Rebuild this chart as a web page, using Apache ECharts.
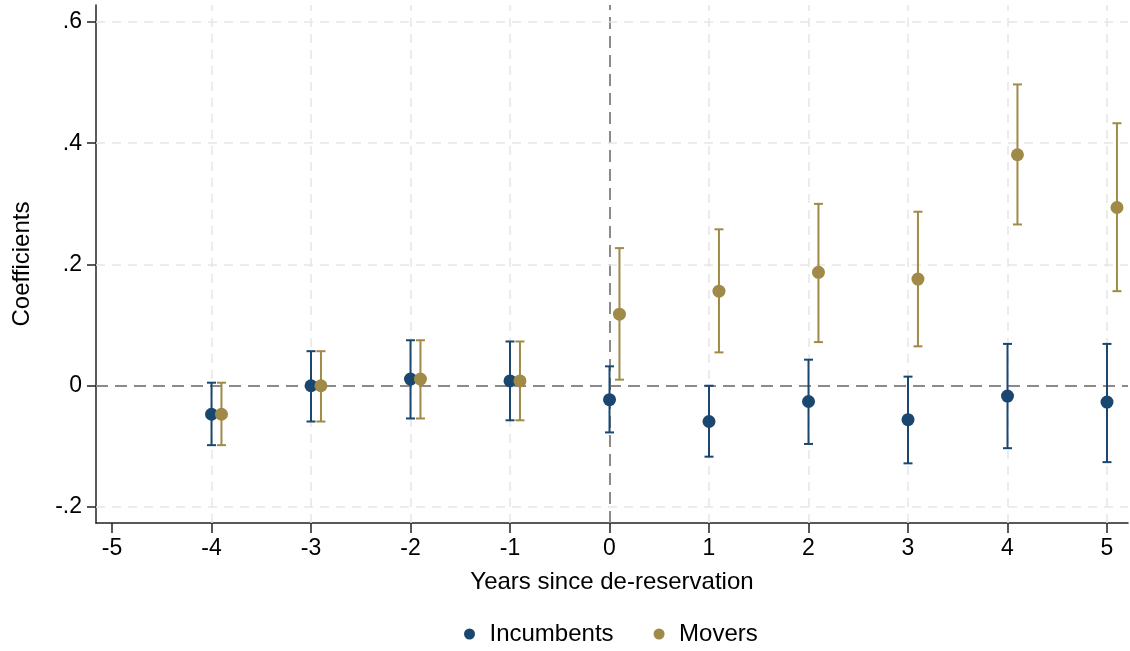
<!DOCTYPE html>
<html>
<head>
<meta charset="utf-8">
<script src="https://cdn.jsdelivr.net/npm/echarts@6/dist/echarts.min.js"></script>
<style>
html,body{margin:0;padding:0;background:#fff;}
#chart{width:1130px;height:651px;}
</style>
</head>
<body>
<div id="chart"></div>
<script>
// ---- data ----
const years = [-4, -3, -2, -1, 0, 1, 2, 3, 4, 5];
const incCoef = [-0.047, 0.000, 0.011, 0.008, -0.023, -0.059, -0.026, -0.056, -0.017, -0.027];
const incLow  = [-0.098, -0.059, -0.054, -0.057, -0.077, -0.117, -0.096, -0.128, -0.103, -0.126];
const incHigh = [0.005, 0.057, 0.075, 0.073, 0.032, 0.000, 0.043, 0.015, 0.069, 0.069];
const movCoef = [-0.047, 0.000, 0.011, 0.008, 0.118, 0.156, 0.187, 0.176, 0.381, 0.294];
const movLow  = [-0.098, -0.059, -0.054, -0.057, 0.010, 0.055, 0.072, 0.065, 0.266, 0.156];
const movHigh = [0.005, 0.057, 0.075, 0.073, 0.227, 0.258, 0.300, 0.287, 0.497, 0.433];
const moverOffset = 0.1;
const xTicks = [-5, -4, -3, -2, -1, 0, 1, 2, 3, 4, 5];
const yTicks = [-0.2, 0, 0.2, 0.4, 0.6];
const seriesNames = ['Incumbents', 'Movers'];
const xTitle = 'Years since de-reservation';
const yTitle = 'Coefficients';

// ---- styles ----
const navy = '#1a476f';
const gold = '#a08a47';
const FONT = 'Liberation Sans, Arial, Helvetica, sans-serif';

function fmtY(v) {
  if (Math.abs(v) < 1e-9) return '0';
  const s = Math.abs(v).toFixed(1).replace(/^0/, '');
  return (v < 0 ? '-' : '') + s;
}

const incPts = years.map((x, i) => [x, incCoef[i]]);
const movPts = years.map((x, i) => [x + moverOffset, movCoef[i]]);
const incBars = years.map((x, i) => [x, incLow[i], incHigh[i]]);
const movBars = years.map((x, i) => [x + moverOffset, movLow[i], movHigh[i]]);

function errRender(color) {
  return function (params, api) {
    const x = api.value(0);
    const lo = api.coord([x, api.value(1)]);
    const hi = api.coord([x, api.value(2)]);
    const hw = 4.5;
    const style = { stroke: color, lineWidth: 2, fill: null };
    return {
      type: 'group',
      children: [
        { type: 'line', shape: { x1: lo[0], y1: lo[1], x2: hi[0], y2: hi[1] }, style: style },
        { type: 'line', shape: { x1: lo[0] - hw, y1: lo[1], x2: lo[0] + hw, y2: lo[1] }, style: style },
        { type: 'line', shape: { x1: hi[0] - hw, y1: hi[1], x2: hi[0] + hw, y2: hi[1] }, style: style }
      ]
    };
  };
}

const gridLineStyle = { color: '#e6e6e6', width: 1.5, type: [9, 7] };
const refLineStyle = { color: '#8a8a8a', width: 2, type: [12, 7] };

const markData = [];
xTicks.forEach(v => {
  if (v === xTicks[0]) return;
  markData.push({ xAxis: v, lineStyle: v === 0 ? refLineStyle : gridLineStyle });
});
yTicks.forEach(v => {
  markData.push({ yAxis: v, lineStyle: v === 0 ? refLineStyle : gridLineStyle });
});

const chart = echarts.init(document.getElementById('chart'), null, { renderer: 'canvas' });
chart.setOption({
  animation: false,
  backgroundColor: '#fff',
  textStyle: { fontFamily: FONT },
  grid: { left: 96, right: 2, top: 5, bottom: 128, containLabel: false },
  xAxis: {
    type: 'value',
    min: -5.161,
    max: 5.211,
    name: xTitle,
    nameLocation: 'middle',
    nameGap: 47,
    nameTextStyle: { fontSize: 24, color: '#000', fontFamily: FONT },
    axisLine: { show: true, onZero: false, lineStyle: { color: '#222', width: 1.5 } },
    axisTick: { show: true, length: 10, lineStyle: { color: '#222', width: 1.5 }, customValues: xTicks },
    axisLabel: { fontSize: 23, color: '#000', margin: 14, customValues: xTicks, fontFamily: FONT },
    splitLine: { show: false }
  },
  yAxis: {
    type: 'value',
    min: -0.2264,
    max: 0.628,
    name: yTitle,
    nameLocation: 'middle',
    nameGap: 62,
    nameRotate: 90,
    nameTextStyle: { fontSize: 24, color: '#000', fontFamily: FONT },
    axisLine: { show: true, onZero: false, lineStyle: { color: '#222', width: 1.5 } },
    axisTick: { show: true, length: 9, lineStyle: { color: '#222', width: 1.5 }, customValues: yTicks },
    axisLabel: { fontSize: 23, color: '#000', margin: 14, customValues: yTicks, formatter: fmtY, fontFamily: FONT },
    splitLine: { show: false }
  },
  legend: {
    data: seriesNames,
    top: 617,
    left: 459,
    icon: 'circle',
    itemWidth: 30,
    itemHeight: 11,
    itemGap: 40,
    textStyle: { fontSize: 24, color: '#000', fontFamily: FONT }
  },
  series: [
    {
      name: 'grid',
      type: 'line',
      data: [],
      silent: true,
      zlevel: 0,
      z: 1,
      markLine: {
        silent: true,
        symbol: 'none',
        label: { show: false },
        animation: false,
        data: markData
      }
    },
    {
      name: 'incErr',
      type: 'custom',
      renderItem: errRender(navy),
      data: incBars,
      zlevel: 1,
      z: 2,
      silent: true
    },
    {
      name: 'movErr',
      type: 'custom',
      renderItem: errRender(gold),
      data: movBars,
      zlevel: 1,
      z: 2,
      silent: true
    },
    {
      name: seriesNames[0],
      type: 'scatter',
      data: incPts,
      symbol: 'circle',
      symbolSize: 13,
      itemStyle: { color: navy, opacity: 1 },
      zlevel: 1,
      z: 3
    },
    {
      name: seriesNames[1],
      type: 'scatter',
      data: movPts,
      symbol: 'circle',
      symbolSize: 13,
      itemStyle: { color: gold, opacity: 1 },
      zlevel: 1,
      z: 3
    }
  ]
});
</script>
</body>
</html>
